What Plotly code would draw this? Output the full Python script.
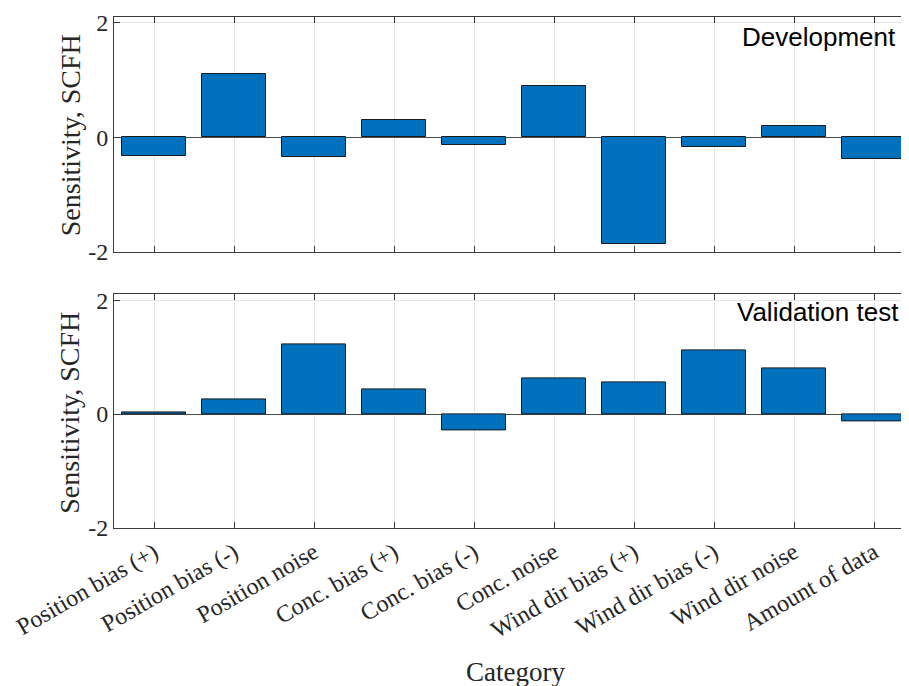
import plotly.graph_objects as go

categories = ["Position bias (+)", "Position bias (-)", "Position noise", "Conc. bias (+)",
              "Conc. bias (-)", "Conc. noise", "Wind dir bias (+)", "Wind dir bias (-)",
              "Wind dir noise", "Amount of data"]
development = [-0.32, 1.11, -0.34, 0.30, -0.13, 0.90, -1.86, -0.16, 0.19, -0.38]
validation = [0.03, 0.25, 1.22, 0.44, -0.29, 0.62, 0.55, 1.12, 0.81, -0.13]
yticks = [-2, 0, 2]
ytick_labels = ["-2", "0", "2"]

# the page body has an 8px margin, so the figure is drawn 8px smaller and positions are shifted
OFF = 8
W, H = 909 - OFF, 686 - OFF
L = 114 - OFF
R = 0
T = 17.3 - OFF
B = H - (528.3 - OFF)
ph = H - T - B
pw = W - L - R


def px(xr):
    return (xr - OFF - L) / pw


def py(yr):
    return 1 - (yr - OFF - T) / ph


bar_color = "#0072BD"
axis_color = "#3a3a3a"
text_color = "#262626"
serif = "Liberation Serif"
xi = list(range(len(categories)))

fig = go.Figure()
fig.add_trace(go.Bar(x=xi, y=development, width=0.8,
                     marker=dict(color=bar_color, line=dict(color="#1a1a1a", width=1)),
                     xaxis="x", yaxis="y", showlegend=False))
fig.add_trace(go.Bar(x=xi, y=validation, width=0.8,
                     marker=dict(color=bar_color, line=dict(color="#1a1a1a", width=1)),
                     xaxis="x2", yaxis="y2", showlegend=False))

top_dom = [py(252.3), 1.0]
bot_dom = [0.0, py(294.7)]

xcommon = dict(range=[-0.5, 9.4375], tickvals=xi, showgrid=True, gridcolor="#e3e3e3", gridwidth=1,
               showline=True, linecolor=axis_color, linewidth=1, mirror="ticks", ticks="inside",
               ticklen=6, tickcolor=axis_color, zeroline=False)
ycommon = dict(range=[-2, 2.1], tickvals=yticks, ticktext=ytick_labels, showgrid=True, gridcolor="#e3e3e3",
               showline=True, linecolor=axis_color, linewidth=1, ticks="inside", ticklen=6,
               tickcolor=axis_color, zeroline=True, zerolinecolor="#4d4d4d", zerolinewidth=1,
               tickfont=dict(family=serif, size=24, color=text_color))

fig.update_layout(
    width=W, height=H, margin=dict(l=L, r=R, t=T, b=B, pad=0),
    plot_bgcolor="white", paper_bgcolor="white", bargap=0,
    xaxis=dict(**xcommon, domain=[0, 1], anchor="y", showticklabels=False),
    yaxis=dict(**ycommon, domain=top_dom, anchor="x"),
    xaxis2=dict(**xcommon, domain=[0, 1], anchor="y2", ticktext=categories, tickangle=-30,
                tickfont=dict(family=serif, size=24, color=text_color)),
    yaxis2=dict(**ycommon, domain=bot_dom, anchor="x2"),
)

fig.add_annotation(text="Development", xref="paper", yref="paper", x=px(898), y=py(37),
                   xanchor="right", yanchor="middle", showarrow=False,
                   font=dict(family="Liberation Sans", size=26, color="black"))
fig.add_annotation(text="Validation test", xref="paper", yref="paper", x=px(901), y=py(312),
                   xanchor="right", yanchor="middle", showarrow=False,
                   font=dict(family="Liberation Sans", size=26, color="black"))
for yc in [135.5, 413]:
    fig.add_annotation(text="Sensitivity, SCFH", xref="paper", yref="paper", x=px(70),
                       y=py(yc), xanchor="center", yanchor="middle", textangle=-90, showarrow=False,
                       font=dict(family=serif, size=28, color=text_color))
fig.add_annotation(text="Category", xref="paper", yref="paper", x=px(515), y=py(672),
                   xanchor="center", yanchor="middle", showarrow=False,
                   font=dict(family=serif, size=27, color=text_color))

fig.write_html("out.html")
